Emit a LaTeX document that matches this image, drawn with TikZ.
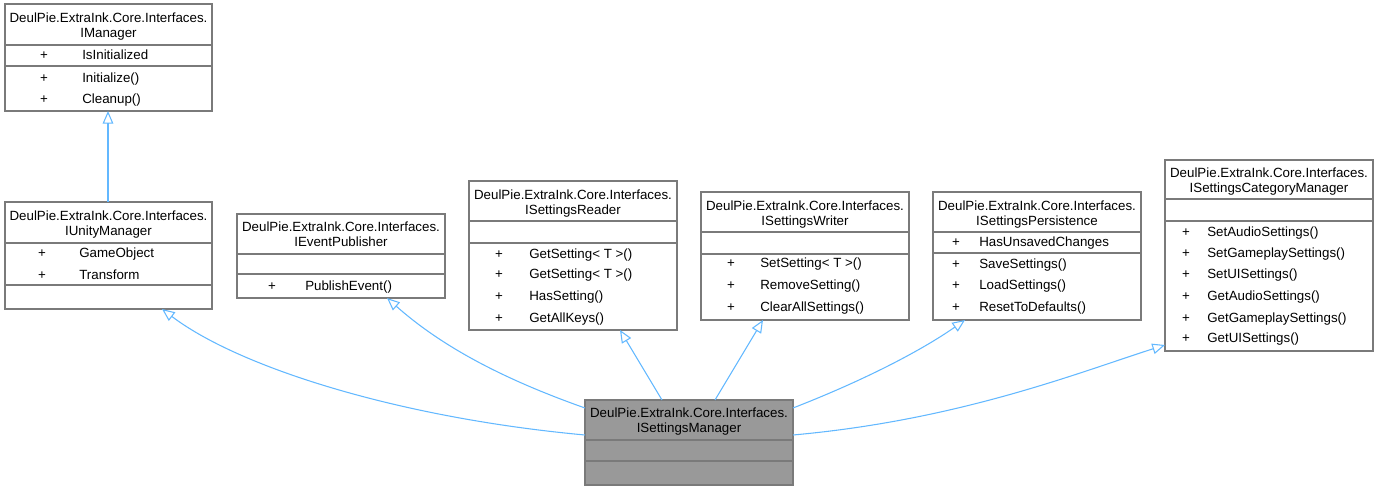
\documentclass[tikz,border=0pt]{standalone}
\usepackage{fontspec}
\setmainfont{Liberation Sans}
\usetikzlibrary{arrows.meta,calc}
\definecolor{bd}{HTML}{7A7A7A}
\definecolor{edgec}{HTML}{63B8FF}
\definecolor{mfill}{HTML}{999999}
\newcommand\umlbox[8]{%
  \node[box, fill=#8, minimum width={(#4-#2)*0.75pt}, minimum height={(#5-#3)*0.75pt}] (#1) at (#2,#3) {};
  \draw[sepline] (#2,#6) -- (#4,#6);
  \draw[sepline] (#2,#7) -- (#4,#7);
}
\newcommand\umltitle[4]{%
  \node[txt] at (#1,#2+4.5) {#3};
  \node[txt] at (#1,#2+20) {#4};
}
\newcommand\umlmem[4]{%
  \node[txt] at (#1,#3+4.5) {+};
  \node[txt, anchor=base west] at (#2,#3+4.5) {#4};
}
\begin{document}
\begin{tikzpicture}[x=0.75pt,y=-0.75pt,
  box/.style={draw=bd, line width=1.1pt, inner sep=0pt, outer sep=0pt, anchor=north west},
  sepline/.style={draw=bd, line width=1.1pt},
  txt/.style={anchor=base, inner sep=0pt, font=\fontsize{10}{12}\selectfont},
  inh/.style={draw=edgec, line width=0.8pt, -{Triangle[open, length=9.5pt, width=8pt]}}]
\useasboundingbox (0,0) rectangle (1378,491);
% boxes
\umlbox{imgr}{5}{4}{212}{111}{45}{66}{white}
\umlbox{iunity}{5}{202}{212}{309}{243}{285}{white}
\umlbox{ievent}{237}{214}{445}{298}{254}{274}{white}
\umlbox{ireader}{469}{181}{677}{330}{221}{243}{white}
\umlbox{iwriter}{701}{192}{909}{320}{232}{254}{white}
\umlbox{ipers}{933}{192}{1141}{320}{232}{253}{white}
\umlbox{icat}{1165}{160}{1373}{351}{199}{221}{white}
\umlbox{mgr}{585}{400}{793}{485}{440}{461}{mfill}
% texts
\umltitle{108.5}{18}{DeulPie.ExtraInk.Core.Interfaces.}{IManager}
\umlmem{44}{82}{55}{IsInitialized}
\umlmem{44}{82}{78}{Initialize()}
\umlmem{44}{82}{99}{Cleanup()}
\umltitle{108.5}{216}{DeulPie.ExtraInk.Core.Interfaces.}{IUnityManager}
\umlmem{42}{79}{253}{GameObject}
\umlmem{42}{79}{275}{Transform}
\umltitle{341}{227}{DeulPie.ExtraInk.Core.Interfaces.}{IEventPublisher}
\umlmem{272}{305}{286}{PublishEvent()}
\umltitle{573}{195}{DeulPie.ExtraInk.Core.Interfaces.}{ISettingsReader}
\umlmem{499}{529}{254}{GetSetting< T >()}
\umlmem{499}{529}{274}{GetSetting< T >()}
\umlmem{499}{529}{296}{HasSetting()}
\umlmem{499}{529}{318}{GetAllKeys()}
\umltitle{805}{206}{DeulPie.ExtraInk.Core.Interfaces.}{ISettingsWriter}
\umlmem{731}{760}{263}{SetSetting< T >()}
\umlmem{731}{760}{285}{RemoveSetting()}
\umlmem{731}{760}{307}{ClearAllSettings()}
\umltitle{1037}{206}{DeulPie.ExtraInk.Core.Interfaces.}{ISettingsPersistence}
\umlmem{956}{979}{242}{HasUnsavedChanges}
\umlmem{956}{979}{264}{SaveSettings()}
\umlmem{956}{979}{285}{LoadSettings()}
\umlmem{956}{979}{307}{ResetToDefaults()}
\umltitle{1269}{173}{DeulPie.ExtraInk.Core.Interfaces.}{ISettingsCategoryManager}
\umlmem{1186}{1207}{232}{SetAudioSettings()}
\umlmem{1186}{1207}{253}{SetGameplaySettings()}
\umlmem{1186}{1207}{274}{SetUISettings()}
\umlmem{1186}{1207}{296}{GetAudioSettings()}
\umlmem{1186}{1207}{318}{GetGameplaySettings()}
\umlmem{1186}{1207}{338}{GetUISettings()}
\umltitle{689}{413}{DeulPie.ExtraInk.Core.Interfaces.}{ISettingsManager}
% edges
\draw[inh] (iunity.north -| 108,0) -- (imgr.south -| 108,0);
\draw[inh] (mgr.west |- 0,435) .. controls (400,418) and (240,368) .. (iunity.south -| 162,0);
\draw[inh] (mgr.west |- 0,408) .. controls (500,378) and (440,345) .. (ievent.south -| 387,0);
\draw[inh] (mgr.north -| 662,0) -- (ireader.south -| 620,0);
\draw[inh] (mgr.north -| 715,0) -- (iwriter.south -| 763,0);
\draw[inh] (mgr.east |- 0,408) .. controls (870,378) and (925,348) .. (ipers.south -| 965,0);
\draw[inh] (mgr.east |- 0,435) .. controls (960,420) and (1080,372) .. (icat.west |- 0,345);
\end{tikzpicture}
\end{document}
